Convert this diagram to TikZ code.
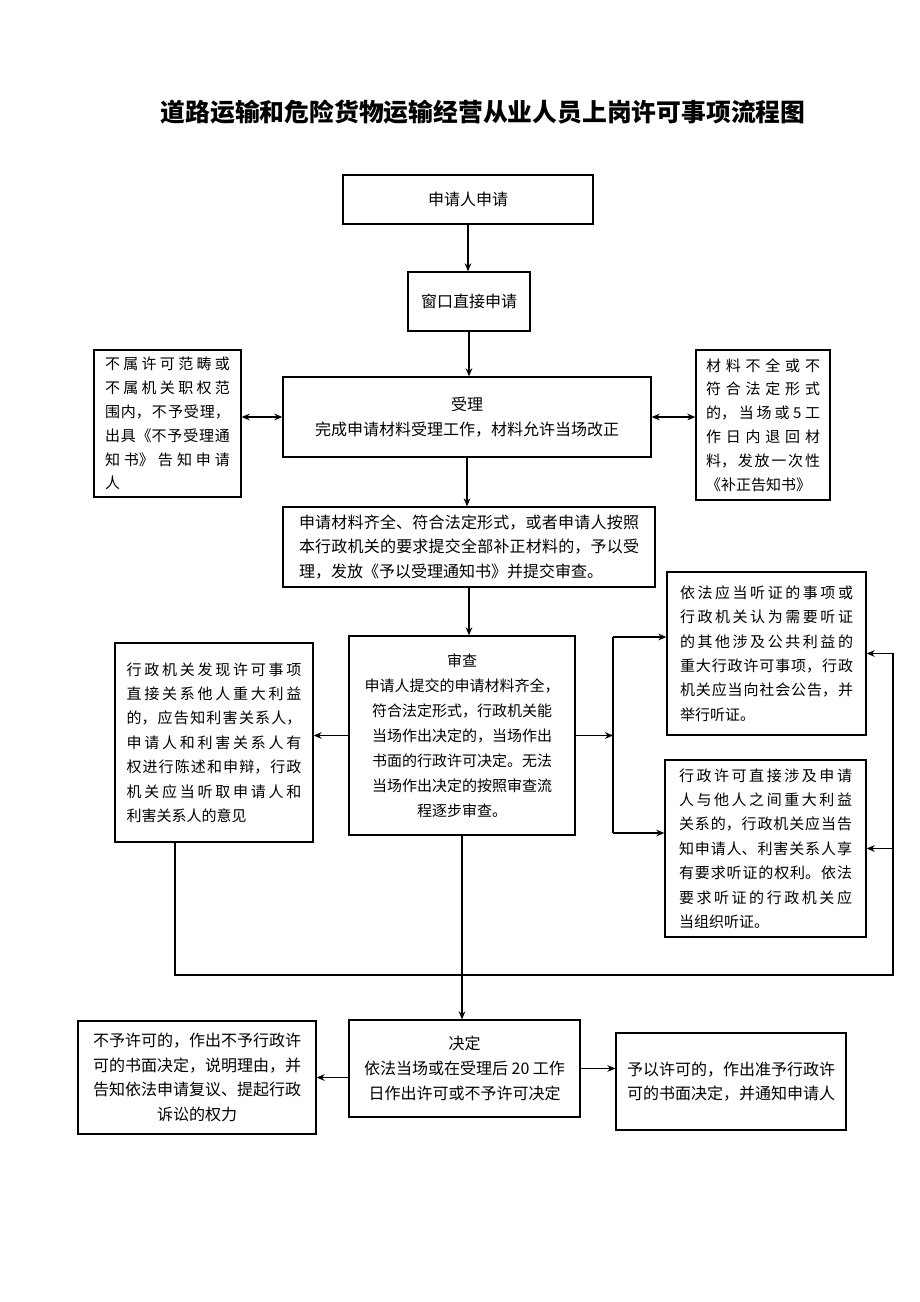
\documentclass[tikz,border=0pt]{standalone}
\usepackage{fontspec}
\setmainfont{Noto Sans CJK SC}
\usepackage{tikz}
\usetikzlibrary{arrows.meta}
\XeTeXlinebreaklocale "zh"
\XeTeXlinebreakskip=0pt plus 20pt

\begin{document}
\begin{tikzpicture}[x=0.75pt, y=-0.75pt, >={Stealth[length=6pt,width=5pt]}, line width=1pt,
    box/.style={draw, inner sep=0pt, font=\fontsize{12pt}{18.5pt}\selectfont, align=center},
    jbox/.style={draw, inner sep=0pt, font=\fontsize{11.25pt}{17.9pt}\selectfont, align=justify}]
    \useasboundingbox (0,0) rectangle (920,1302);
    \node[font=\fontsize{18.6pt}{22pt}\selectfont\bfseries] (title) at (483,112) {道路运输和危险货物运输经营从业人员上岗许可事项流程图};

    % 主流程
    \node[box, minimum width=187.5pt, minimum height=36.75pt] (req) at (468,199.5) {申请人申请};
    \node[box, minimum width=91.5pt, minimum height=44.25pt] (win) at (469,301.5) {窗口直接申请};
    \node[box, minimum width=276pt, minimum height=60pt] (acc) at (467,417) {受理\\完成申请材料受理工作，材料允许当场改正};
    \node[jbox, text width=93.75pt, minimum width=110.25pt, minimum height=110.25pt] (rej) at (167.5,423.5) {不属许可范畴或\linebreak 不属机关职权范\linebreak 围内，不予受理，\linebreak 出具《不予受理通\linebreak 知书》告知申请\linebreak 人};
    \node[jbox, text width=85.5pt, minimum width=100.5pt, minimum height=112.5pt] (fix) at (763,425) {材料不全或不\linebreak 符合法定形式\linebreak 的，当场或 5 工\linebreak 作日内退回材\linebreak 料，发放一次性\linebreak 《补正告知书》};
    \node[jbox, font=\fontsize{12pt}{18.4pt}\selectfont, text width=255pt, minimum width=279pt, minimum height=60pt] (ok) at (469,547) {申请材料齐全、符合法定形式，或者申请人按照\linebreak 本行政机关的要求提交全部补正材料的，予以受\linebreak 理，发放《予以受理通知书》并提交审查。};

    % 审查
    \node[box, font=\fontsize{11.25pt}{18.7pt}\selectfont, minimum width=169.5pt, minimum height=149.25pt] (rev) at (462,735.5) {审查\\申请人提交的申请材料齐全，\\符合法定形式，行政机关能\\当场作出决定的，当场作出\\书面的行政许可决定。无法\\当场作出决定的按照审查流\\程逐步审查。};
    \node[jbox, font=\fontsize{11.25pt}{18.3pt}\selectfont, text width=131.25pt, minimum width=148.5pt, minimum height=149.25pt] (inf) at (214,742.5) {行政机关发现许可事项\linebreak 直接关系他人重大利益\linebreak 的，应告知利害关系人，\linebreak 申请人和利害关系人有\linebreak 权进行陈述和申辩，行政\linebreak 机关应当听取申请人和\linebreak 利害关系人的意见};
    \node[jbox, font=\fontsize{11.25pt}{18.3pt}\selectfont, text width=129.75pt, minimum width=149.25pt, minimum height=122.25pt] (hr1) at (766.5,653.5) {依法应当听证的事项或\linebreak 行政机关认为需要听证\linebreak 的其他涉及公共利益的\linebreak 重大行政许可事项，行政\linebreak 机关应当向社会公告，并\linebreak 举行听证。};
    \node[jbox, font=\fontsize{11.25pt}{18.3pt}\selectfont, text width=129.75pt, minimum width=150.75pt, minimum height=132.75pt] (hr2) at (765.5,848.5) {行政许可直接涉及申请\linebreak 人与他人之间重大利益\linebreak 关系的，行政机关应当告\linebreak 知申请人、利害关系人享\linebreak 有要求听证的权利。依法\linebreak 要求听证的行政机关应\linebreak 当组织听证。};

    % 决定
    \node[box, minimum width=173.25pt, minimum height=72.75pt] (dec) at (464.5,1068.5) {决定\\依法当场或在受理后 20 工作\\日作出许可或不予许可决定};
    \node[box, minimum width=178.5pt, minimum height=84.75pt] (no) at (197,1077.5) {不予许可的，作出不予行政许\\可的书面决定，说明理由，并\\告知依法申请复议、提起行政\\诉讼的权力};
    \node[box, minimum width=172.5pt, minimum height=72.75pt] (yes) at (731,1081.5) {予以许可的，作出准予行政许\\可的书面决定，并通知申请人};

    \coordinate (sp) at (613,735.5);
    \coordinate (bt) at (613,637);
    \coordinate (bb) at (613,833);
    \coordinate (fl) at (175,975);
    \coordinate (fr) at (893,975);

    \draw[->] (req.south) -- (req.south |- win.north);
    \draw[->] (win.south) -- (win.south |- acc.north);
    \draw[<->] (acc.west) -- (acc.west -| rej.east);
    \draw[<->] (acc.east) -- (acc.east -| fix.west);
    \draw[->] (acc.south) -- (acc.south |- ok.north);
    \draw[->] (ok.south) -- (ok.south |- rev.north);
    \draw[->] (rev.west) -- (rev.west -| inf.east);
    \draw[->] (rev.east) -- (sp);
    \draw (bt) -- (bb);                 % 分支竖线
    \draw[->] (bt) -- (bt -| hr1.west);
    \draw[->] (bb) -- (bb -| hr2.west);
    \draw[->] (inf.south -| fl) -- (fl) -- (fr) |- (hr1.east);  % 回路
    \draw[->] (hr2.east -| fr) -- (hr2.east);
    \draw[->] (rev.south) -- (rev.south |- dec.north);
    \draw[->] (dec.west |- no.east) -- (no.east);
    \draw[->] (dec.east) -- (dec.east -| yes.west);
\end{tikzpicture}
\end{document}
